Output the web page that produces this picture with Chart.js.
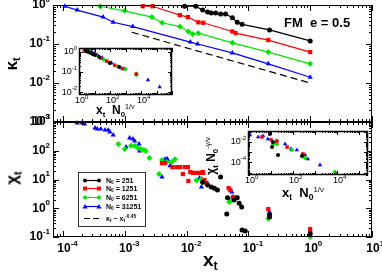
<!DOCTYPE html>
<html lang="en">
<head>
  <meta charset="UTF-8">
  <title>kappa / chi vs x_t</title>
  <script src="https://cdn.jsdelivr.net/npm/chart.js"></script>
  <style>
    body { margin: 0; background: #fff; }
    #wrap { position: relative; width: 382px; height: 273px; overflow: hidden;
            font-family: 'Liberation Sans', Arial, sans-serif; color: #000; }
    canvas { position: absolute; }
    .lbl { position: absolute; font-weight: bold; white-space: nowrap; line-height: 1; }
    .rot { transform: translate(-50%, -50%) rotate(-90deg); }
    .lbl sub { font-size: 65%; vertical-align: -0.35em; line-height: 0; }
    .lbl sup { font-size: 60%; vertical-align: 0.7em; line-height: 0; font-weight: normal; }
    #legend { position: absolute; left: 78px; top: 172px; width: 66px; height: 53px;
              border: 1.5px solid #333; background: #fff; }
    #legend .row { position: absolute; left: 3px; height: 8px; font-size: 7px; font-weight: bold;
                   white-space: nowrap; line-height: 8px; }
    #legend svg { position: absolute; left: 0; top: 0; }
    #legend span { position: absolute; left: 24px; top: 0; }
    #legend sub { font-size: 70%; vertical-align: -0.3em; line-height: 0; }
    #legend sup { font-size: 70%; vertical-align: 0.6em; line-height: 0; }
  </style>
</head>
<body>
<div id="wrap">
  <canvas id="cTop" width="382" height="130" style="left:0;top:0"></canvas>
  <canvas id="cBot" width="382" height="159" style="left:0;top:114px"></canvas>
  <canvas id="cIns1" width="128" height="70" style="left:52px;top:40px"></canvas>
  <canvas id="cIns2" width="156" height="64" style="left:220px;top:124px"></canvas>

  <div class="lbl rot" style="left:11px;top:64px;font-size:17px">κ<sub>t</sub></div>
  <div class="lbl rot" style="left:12px;top:178px;font-size:17px">χ<sub>t</sub></div>
  <div class="lbl" style="left:203px;top:250px;font-size:19px">x<sub>t</sub></div>
  <div class="lbl" style="left:284px;top:16px;font-size:13px">FM&nbsp; e = 0.5</div>
  <div class="lbl" style="left:96px;top:104px;font-size:12px">x<sub>t</sub>&nbsp; N<sub>0</sub><sup>1/ν</sup></div>
  <div class="lbl" style="left:282px;top:186px;font-size:13px">x<sub>t</sub>&nbsp; N<sub>0</sub><sup>1/ν</sup></div>
  <div class="lbl rot" style="left:211px;top:156px;font-size:12px">χ<sub>t</sub> N<sub>0</sub><sup>-γ/ν</sup></div>
  <div id="legend"></div>
</div>

<script>
  // system sizes and styles
  var sizes = ['251', '1251', '6251', '31251'];
  var colors = ['#000000', '#ff0000', '#00e600', '#0000ff'];
  var marks = ['circle', 'rect', 'rectRot', 'triangle'];

  // tick labels (powers of ten)
  var xTicks = [-4, -3, -2, -1, 0, 1];
  var kapTicks = [0, -1, -2, -3];
  var chiTicks = [3, 2, 1, 0, -1];
  var ins1XTicks = [0, 2, 4];
  var ins1YTicks = [0, -1, -2];
  var ins2XTicks = [0, 2, 4];
  var ins2YTicks = [-2, -4];

  // top panel: kappa_t vs x_t
  var kap251X = [9.3e-3, 1.41e-2, 1.82e-2, 2.19e-2, 2.51e-2, 2.95e-2, 3.55e-2, 4.27e-2, 5.5e-2, 6.6e-2, 7.9e-2, 0.22, 1];
  var kap251Y = [0.93, 0.93, 0.74, 0.66, 0.62, 0.62, 0.59, 0.59, 0.47, 0.36, 0.32, 0.23, 0.12];
  var kap1251X = [1.95e-3, 2.82e-3, 7.8e-3, 1.05e-2, 1.55e-2, 1.86e-2, 5.5e-2, 6.2e-2, 0.21, 1];
  var kap1251Y = [0.93, 0.93, 0.55, 0.49, 0.36, 0.35, 0.21, 0.19, 0.126, 0.062];
  var kap6251X = [4.0e-4, 1.0e-3, 2.75e-3, 4.0e-3, 7.8e-3, 1.07e-2, 1.26e-2, 1.55e-2, 5.5e-2, 0.21, 1];
  var kap6251Y = [0.93, 0.71, 0.49, 0.35, 0.28, 0.21, 0.18, 0.19, 0.107, 0.062, 0.031];
  var kap31251X = [1.07e-4, 1.7e-4, 4.47e-4, 6.5e-4, 1.35e-3, 1.15e-2, 1.51e-2, 5.5e-2, 0.21, 1];
  var kap31251Y = [0.93, 0.74, 0.49, 0.36, 0.28, 0.112, 0.1, 0.059, 0.031, 0.014];
  var fitX = [1.3e-3, 1];
  var fitY = [0.2, 0.01];

  // bottom panel: chi_t vs x_t
  var chi251X = [1.82e-2, 2.19e-2, 2.51e-2, 2.82e-2, 3.16e-2, 3.55e-2, 4.47e-2, 4.6e-2, 5.9e-2, 6.6e-2, 7.1e-2, 7.8e-2, 7.9e-2, 8.9e-2, 0.22, 0.22, 1];
  var chi251Y = [8.1, 6.5, 5.5, 5.0, 4.3, 12.3, 0.63, 2.3, 1.95, 2.3, 1.5, 1.1, 0.174, 0.162, 0.59, 0.5, 0.126];
  var chi1251X = [4.0e-3, 4.47e-3, 5.9e-3, 6.9e-3, 7.8e-3, 9.3e-3, 1.05e-2, 8.7e-3, 1.15e-2, 1.26e-2, 1.45e-2, 1.62e-2, 1.82e-2, 1.86e-2, 1.07e-2, 1.95e-2, 2.1e-2, 4.8e-2, 5.1e-2, 5.75e-2, 6.5e-2, 0.21, 1];
  var chi1251Y = [37, 37, 27, 27, 27, 27, 27, 15.5, 18.2, 17, 17, 17, 18.2, 17, 8.9, 9.5, 7.6, 5.0, 4.3, 2.45, 2.3, 0.93, 0.19];
  var chi6251X = [7.9e-4, 1.0e-3, 1.26e-3, 1.45e-3, 1.62e-3, 1.82e-3, 2.04e-3, 2.19e-3, 2.51e-3, 3.6e-3, 4.0e-3, 4.8e-3, 5.75e-3, 6.5e-3, 1.45e-2, 1.74e-2, 4.9e-2, 5.4e-2, 0.21, 1];
  var chi6251Y = [170, 115, 148, 148, 126, 115, 107, 98, 56, 15.5, 48, 41, 41, 51, 9.5, 10.5, 1.66, 1.95, 0.43, 0.1];
  var chi31251X = [1.7e-4, 2.04e-4, 2.24e-4, 3.3e-4, 3.6e-4, 4.1e-4, 4.8e-4, 5.4e-4, 5.75e-4, 6.5e-4, 1.05e-3, 1.2e-3, 1.35e-3, 1.45e-3, 1.7e-3, 1.74e-3, 4.47e-3, 4.8e-3, 4.9e-3, 5.4e-3, 4.0e-3, 1.62e-2, 1.74e-2, 5.4e-2, 5.5e-2, 0.22, 1];
  var chi31251Y = [930, 930, 850, 620, 575, 575, 525, 525, 450, 355, 135, 275, 257, 219, 170, 98, 51, 51, 51, 30, 12.3, 11.2, 5.5, 3.7, 2.45, 0.74, 0.162];

  // inset of top panel: kappa_t vs x_t N0^(1/nu)
  var ins1_251X = [2.8, 4.0, 5.6, 7.9, 11, 20, 100, 400];
  var ins1_251Y = [1.12, 1.0, 0.89, 0.76, 0.71, 0.56, 0.28, 0.18];
  var ins1_1251X = [2.2, 3.5, 10, 25, 63, 200, 630, 5000];
  var ins1_1251Y = [1.12, 1.12, 0.76, 0.5, 0.35, 0.22, 0.15, 0.079];
  var ins1_6251X = [5.0, 12.6, 40, 100, 316, 1000, 5000];
  var ins1_6251Y = [1.05, 0.71, 0.42, 0.28, 0.19, 0.14, 0.076];
  var ins1_31251X = [6.3, 10, 16, 32, 126, 800, 5000, 28000, 160000];
  var ins1_31251Y = [1.12, 0.89, 0.71, 0.5, 0.28, 0.14, 0.079, 0.04, 0.018];

  // inset of bottom panel: chi_t N0^(-gamma/nu) vs x_t N0^(1/nu)
  var ins2_251X = [8.9, 12.3, 11.2, 21, 257];
  var ins2_251Y = [0.06, 0.01, 0.0032, 5.4e-4, 4.3e-4];
  var ins2_1251X = [3.9, 10, 18.6, 54, 282];
  var ins2_1251Y = [0.031, 0.016, 0.0126, 0.0032, 6.8e-4];
  var ins2_6251X = [12.3, 18.6, 89, 355, 8100];
  var ins2_6251Y = [0.0063, 0.0063, 0.00166, 2.75e-4, 1.17e-5];
  var ins2_31251X = [1.12, 2.6, 4.4, 7.2, 17, 44, 81, 151, 355, 479, 1700];
  var ins2_31251Y = [0.048, 0.031, 0.039, 0.0195, 0.01, 0.0063, 0.0021, 0.00166, 5.4e-4, 2.2e-4, 5.8e-5];

  var FONT = "'Liberation Sans', Arial, sans-serif";

  function pts(xs, ys) {
    return xs.map(function (x, i) { return { x: x, y: ys[i] }; });
  }

  function series(xs, ys, k, r, line) {
    return {
      data: pts(xs, ys),
      showLine: line,
      borderColor: colors[k],
      backgroundColor: colors[k],
      borderWidth: 1.2,
      pointStyle: marks[k],
      pointRadius: r,
      pointBorderWidth: 0,
      clip: 4
    };
  }

  function logTicks(s) {
    var out = [];
    for (var e = Math.floor(Math.log10(s.min)); e <= Math.ceil(Math.log10(s.max)); e++) {
      for (var m = 1; m < 10; m++) {
        var v = m * Math.pow(10, e);
        if (v >= s.min * 0.999 && v <= s.max * 1.001) out.push({ v: v, major: m === 1 });
      }
    }
    return out;
  }

  function powLabel(ctx, x, y, e, align, f) {
    var bf = f.w + ' ' + f.base + 'px ' + FONT;
    var ef = f.w + ' ' + f.exp + 'px ' + FONT;
    ctx.font = bf;
    var wb = ctx.measureText('10').width;
    ctx.font = ef;
    var we = ctx.measureText(String(e)).width;
    var x0 = align === 'right' ? x - wb - we : x - wb / 2 + 1;
    ctx.textAlign = 'left';
    ctx.textBaseline = 'middle';
    ctx.font = bf;
    ctx.fillText('10', x0, y);
    ctx.font = ef;
    ctx.fillText(String(e), x0 + wb, y - f.base * 0.45);
  }

  // box, inward log ticks on all sides, and 10^n labels
  var frame = {
    id: 'frame',
    beforeDraw: function (chart, args, o) {
      if (!o.white) return;
      var a = chart.chartArea, ctx = chart.ctx;
      ctx.save();
      ctx.fillStyle = '#fff';
      ctx.fillRect(a.left, a.top, a.width, a.height);
      ctx.restore();
    },
    afterDraw: function (chart, args, o) {
      var ctx = chart.ctx, a = chart.chartArea;
      var sx = chart.scales.x, sy = chart.scales.y;
      ctx.save();
      ctx.strokeStyle = '#000';
      ctx.lineWidth = 1;
      ctx.beginPath();
      logTicks(sx).forEach(function (t) {
        var p = Math.round(sx.getPixelForValue(t.v)) + 0.5;
        var L = t.major ? o.major : o.minor;
        ctx.moveTo(p, a.bottom); ctx.lineTo(p, a.bottom - L);
        ctx.moveTo(p, a.top); ctx.lineTo(p, a.top + L);
      });
      logTicks(sy).forEach(function (t) {
        var p = Math.round(sy.getPixelForValue(t.v)) + 0.5;
        var L = t.major ? o.major : o.minor;
        ctx.moveTo(a.left, p); ctx.lineTo(a.left + L, p);
        ctx.moveTo(a.right, p); ctx.lineTo(a.right - L, p);
      });
      ctx.stroke();
      ctx.lineWidth = o.box || 1;
      ctx.strokeRect(a.left + 0.5, a.top + 0.5, a.width - 1, a.height - 1);
      ctx.fillStyle = '#000';
      (o.xExp || []).forEach(function (e) {
        powLabel(ctx, sx.getPixelForValue(Math.pow(10, e)), a.bottom + o.xGap, e, 'center', o.font);
      });
      (o.yExp || []).forEach(function (e) {
        powLabel(ctx, a.left - o.yGap, sy.getPixelForValue(Math.pow(10, e)), e, 'right', o.font);
      });
      ctx.restore();
    }
  };

  function makeChart(id, datasets, pad, xr, yr, frameOpts) {
    return new Chart(document.getElementById(id), {
      type: 'scatter',
      data: { datasets: datasets },
      options: {
        responsive: false,
        animation: false,
        events: [],
        layout: { padding: pad },
        plugins: { legend: { display: false }, tooltip: { enabled: false }, frame: frameOpts },
        scales: {
          x: { type: 'logarithmic', display: false, min: xr[0], max: xr[1] },
          y: { type: 'logarithmic', display: false, min: yr[0], max: yr[1] }
        }
      },
      plugins: [frame]
    });
  }

  var mainX = [6.9e-5, 10];
  var bigFont = { w: 'bold', base: 12, exp: 8 };
  var smallFont = { w: 'normal', base: 9, exp: 6 };

  // top panel
  var topSets = [
    series(kap251X, kap251Y, 0, 2.5, true),
    series(kap1251X, kap1251Y, 1, 3, true),
    series(kap6251X, kap6251Y, 2, 3, true),
    series(kap31251X, kap31251Y, 3, 3, true),
    { data: pts(fitX, fitY), showLine: true, borderColor: '#000', borderWidth: 1.2,
      borderDash: [7, 4], pointRadius: 0, clip: 4 }
  ];
  makeChart('cTop', topSets, { left: 53, right: 10, top: 5, bottom: 8 }, mainX, [1e-3, 1],
    { major: 6, minor: 3, yExp: kapTicks, yGap: 3, font: bigFont });

  // bottom panel
  var botSets = [
    series(chi251X, chi251Y, 0, 2.5, false),
    series(chi1251X, chi1251Y, 1, 3, false),
    series(chi6251X, chi6251Y, 2, 3, false),
    series(chi31251X, chi31251Y, 3, 3, false)
  ];
  makeChart('cBot', botSets, { left: 53, right: 10, top: 8, bottom: 36 }, mainX, [0.1, 1000],
    { major: 6, minor: 3, xExp: xTicks, xGap: 12, yExp: chiTicks, yGap: 3, font: bigFont });

  // inset 1
  var ins1Sets = [
    series(ins1_251X, ins1_251Y, 0, 2, false),
    series(ins1_1251X, ins1_1251Y, 1, 2.5, false),
    series(ins1_6251X, ins1_6251Y, 2, 2.5, false),
    series(ins1_31251X, ins1_31251Y, 3, 2.5, false)
  ];
  makeChart('cIns1', ins1Sets, { left: 27, right: 8, top: 8, bottom: 15 }, [1, 1e6], [0.0071, 1.58],
    { white: true, box: 1.5, major: 4, minor: 2, xExp: ins1XTicks, xGap: 6, yExp: ins1YTicks, yGap: 2, font: smallFont });

  // inset 2
  var ins2Sets = [
    series(ins2_251X, ins2_251Y, 0, 2, false),
    series(ins2_1251X, ins2_1251Y, 1, 2.5, false),
    series(ins2_6251X, ins2_6251Y, 2, 2.5, false),
    series(ins2_31251X, ins2_31251Y, 3, 2.5, false)
  ];
  makeChart('cIns2', ins2Sets, { left: 28, right: 8, top: 7, bottom: 13 }, [0.9, 2.6e5], [6e-6, 0.117],
    { white: true, box: 1.5, major: 4, minor: 2, xExp: ins2XTicks, xGap: 6, yExp: ins2YTicks, yGap: 2, font: smallFont });

  // legend
  function markerSvg(k, x) {
    var c = colors[k];
    if (marks[k] === 'circle') return '<circle cx="' + x + '" cy="3.5" r="2" fill="' + c + '"/>';
    if (marks[k] === 'rect') return '<rect x="' + (x - 2) + '" y="1.5" width="4" height="4" fill="' + c + '"/>';
    if (marks[k] === 'rectRot') return '<polygon points="' + x + ',1 ' + (x + 2.5) + ',3.5 ' + x + ',6 ' + (x - 2.5) + ',3.5" fill="' + c + '"/>';
    return '<polygon points="' + x + ',1 ' + (x + 2.5) + ',5.5 ' + (x - 2.5) + ',5.5" fill="' + c + '"/>';
  }
  var rowTops = [4, 12, 21, 30, 42];
  var html = '';
  sizes.forEach(function (n, k) {
    html += '<div class="row" style="top:' + rowTops[k] + 'px"><svg width="20" height="7">' +
      '<line x1="3" y1="3.5" x2="17" y2="3.5" stroke="' + colors[k] + '" stroke-width="1.2"/>' +
      markerSvg(k, 3) + markerSvg(k, 17) + '</svg><span>N<sub>0</sub> = ' + n + '</span></div>';
  });
  html += '<div class="row" style="top:' + rowTops[4] + 'px"><svg width="20" height="7">' +
    '<line x1="2" y1="3.5" x2="18" y2="3.5" stroke="#000" stroke-width="1.2" stroke-dasharray="6,3"/>' +
    '</svg><span>κ<sub>t</sub> ~ x<sub>t</sub><sup>-0.45</sup></span></div>';
  document.getElementById('legend').innerHTML = html;
</script>
</body>
</html>
